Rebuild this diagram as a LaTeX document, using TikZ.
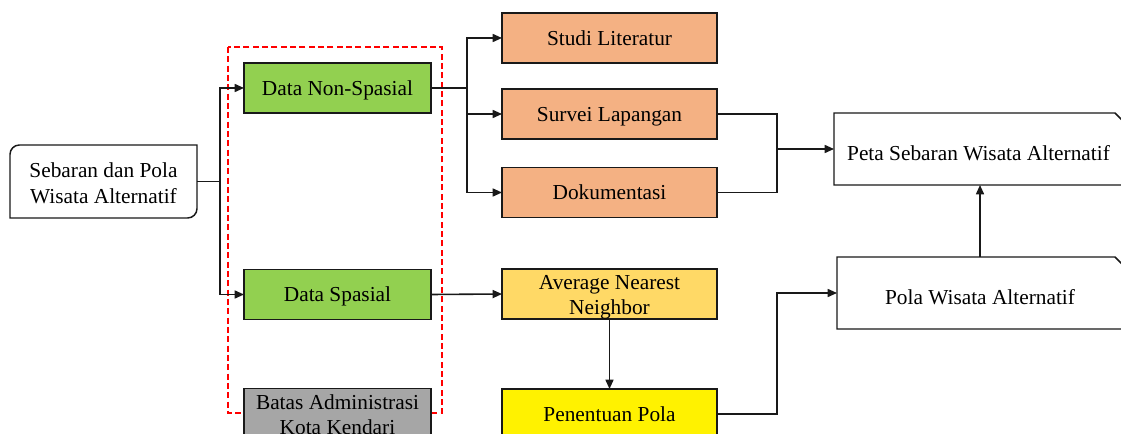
\documentclass[tikz,border=0pt]{standalone}
\usepackage{fontspec}
\setmainfont{Liberation Serif}
\usetikzlibrary{arrows.meta,calc}

\definecolor{greenbox}{RGB}{146,208,80}
\definecolor{orangebox}{RGB}{244,177,131}
\definecolor{annbox}{RGB}{255,217,102}
\definecolor{graybox}{RGB}{166,166,166}

\tikzset{
  txt/.style={inner sep=0pt, outer sep=0pt, align=center, text depth=0pt, font=\fontsize{16}{18.75}\selectfont},
  box/.style={txt, draw=black!90, line width=1.1pt},
  border/.style={draw=black!90, line width=1.1pt, line cap=rect},
  conn/.style={draw=black!90, line width=1.2pt},
  arr/.style={conn, -{Triangle[length=7pt,width=6pt]}},
  smallbox/.style={box, minimum width=140.25pt, minimum height=37.5pt},
  widebox/.style={box, minimum width=161.25pt, minimum height=37.5pt},
  resultbox/.style={txt, minimum height=54pt, text height=17pt},
}

\begin{document}
\begin{tikzpicture}[x=0.75pt,y=0.75pt,yscale=-1,xscale=1]
\useasboundingbox (0,0) rectangle (1121,434);
\clip (0,0) rectangle (1121,434);

%Shape: Rectangle, dashed group frame
\draw [color={rgb, 255:red, 255; green, 0; blue, 0 }, line width=1.5pt, dash pattern=on 4.5pt off 2.5pt] (228,47) rectangle (442,413);

% Start node
\node [txt, font=\fontsize{16}{20}\selectfont, text height=33.75pt, minimum width=140.25pt, minimum height=54.75pt] (sebaran) at (103.5,181.5) {Sebaran dan Pola\\Wisata Alternatif};
\draw [border, rounded corners=7pt] (sebaran.south west) -- (sebaran.north west) -- (sebaran.north east) (sebaran.north east) -- (sebaran.south east) -- (sebaran.south west);

% Data nodes
\node [smallbox, fill=greenbox] (nonspasial) at (337.5,88) {Data Non-Spasial};
\node [smallbox, fill=greenbox] (spasial) at (337.5,294.5) {Data Spasial};
\node [smallbox, fill=graybox, minimum height=38pt, text height=31pt] (batas) at (337.5,414) {Batas Administrasi\\Kota Kendari};

% Method nodes
\node [widebox, fill=orangebox] (studi) at (609.5,38) {Studi Literatur};
\node [widebox, fill=orangebox] (survei) at (609.5,114) {Survei Lapangan};
\node [widebox, fill=orangebox] (dokumentasi) at (609.5,192.5) {Dokumentasi};
\node [widebox, fill=annbox, text height=31.5pt] (ann) at (609.5,294) {Average Nearest\\Neighbor};
\node [widebox, fill=yellow] (penentuan) at (609.5,414) {Penentuan Pola};

% Result nodes
\node [resultbox, minimum width=216.75pt] (peta) at (978.5,149) {Peta Sebaran Wisata Alternatif};
\draw [border] (peta.south west) -- (peta.north west) -- ($(peta.north east)+(-8,0)$) -- ($(peta.north east)+(0,8)$) -- (peta.south east) -- cycle;
\node [resultbox, minimum width=214.5pt] (pola) at (980,293) {Pola Wisata Alternatif};
\draw [border] (pola.south west) -- (pola.north west) -- ($(pola.north east)+(-8,0)$) -- ($(pola.north east)+(0,8)$) -- (pola.south east) -- cycle;

% Branch points
\coordinate (forka) at (220,181.5);
\coordinate (forkb) at (467,88);
\coordinate (forkc) at (777,149);
\coordinate (forkd) at (777,350);

%Straight Lines
\draw [conn] (sebaran.east) -- (forka);
\draw [arr] (forka) |- (nonspasial.west);
\draw [arr] (forka) |- (spasial.west);
\draw [conn] (nonspasial.east) -- (forkb);
\draw [arr] (forkb) |- (studi.west);
\draw [arr] (forkb) |- (survei.west);
\draw [arr] (forkb) |- (dokumentasi.west);
\draw [conn] (survei.east) -| (forkc);
\draw [conn] (dokumentasi.east) -| (forkc);
\draw [arr] (forkc) -- (peta.west);
\draw [arr] (spasial.east) -- (ann.west);
\draw [arr] (ann.south) -- (penentuan.north);
\draw [arr] (penentuan.east) -| (forkd) |- (pola.west);
\draw [arr] (pola.north) -- (pola.north |- peta.south);

\end{tikzpicture}
\end{document}
